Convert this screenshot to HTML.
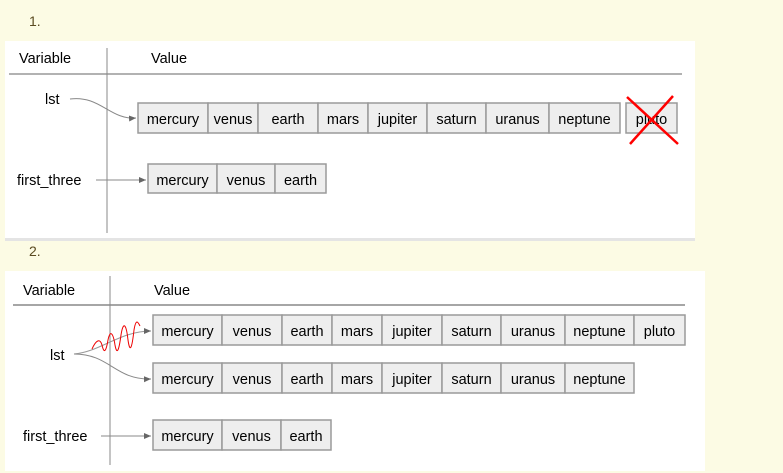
<!DOCTYPE html>
<html><head><meta charset="utf-8">
<style>
html,body{margin:0;padding:0;background:#fcfbe4;width:783px;height:473px;overflow:hidden}
svg{display:block}
text{font-family:"Liberation Sans",Arial,sans-serif;font-size:14.5px;fill:#000}
.c{fill:#eeeeee;stroke:#9a9a9a;stroke-width:1.5}
.num{font-family:"Liberation Sans",sans-serif;font-size:14px;fill:#5a4a20}
</style></head><body>
<svg width="783" height="473" viewBox="0 0 783 473" xmlns="http://www.w3.org/2000/svg">
<defs>
<marker id="ar" markerWidth="8" markerHeight="8" refX="7" refY="4" orient="auto" markerUnits="userSpaceOnUse">
<path d="M0,1 L7,4 L0,7 z" fill="#666"/></marker>
</defs>
<text x="29" y="26" class="num">1.</text>
<rect x="5" y="41" width="690" height="197" fill="#fff"/>
<rect x="5" y="238" width="690" height="3" fill="#e4e4e4"/>
<line x1="9" y1="74" x2="682" y2="74" stroke="#999" stroke-width="1.5"/>
<line x1="107" y1="48" x2="107" y2="233" stroke="#888" stroke-width="1"/>
<text x="19" y="63">Variable</text>
<text x="151" y="63">Value</text>
<text x="45" y="104">lst</text>
<text x="17" y="185">first_three</text>
<path d="M70,99 C100,95 110,120 136,118" fill="none" stroke="#888" stroke-width="1" marker-end="url(#ar)"/>
<line x1="96" y1="180" x2="146" y2="180" stroke="#888" stroke-width="1" marker-end="url(#ar)"/>
<g>
<rect class="c" x="138" y="103" width="70" height="30"/><text x="173" y="124" text-anchor="middle">mercury</text>
<rect class="c" x="208" y="103" width="50" height="30"/><text x="233" y="124" text-anchor="middle">venus</text>
<rect class="c" x="258" y="103" width="60" height="30"/><text x="288" y="124" text-anchor="middle">earth</text>
<rect class="c" x="318" y="103" width="50" height="30"/><text x="343" y="124" text-anchor="middle">mars</text>
<rect class="c" x="368" y="103" width="59" height="30"/><text x="397.5" y="124" text-anchor="middle">jupiter</text>
<rect class="c" x="427" y="103" width="59" height="30"/><text x="456.5" y="124" text-anchor="middle">saturn</text>
<rect class="c" x="486" y="103" width="63" height="30"/><text x="517.5" y="124" text-anchor="middle">uranus</text>
<rect class="c" x="549" y="103" width="71" height="30"/><text x="584.5" y="124" text-anchor="middle">neptune</text>
<rect class="c" x="626" y="103" width="51" height="30"/><text x="651.5" y="124" text-anchor="middle">pluto</text>
<line x1="627" y1="97" x2="678" y2="144" stroke="#f00" stroke-width="2.5"/>
<line x1="673" y1="96" x2="630" y2="144" stroke="#f00" stroke-width="2.5"/>
</g>
<g>
<rect class="c" x="148" y="164" width="69" height="29"/><text x="182.5" y="185" text-anchor="middle">mercury</text>
<rect class="c" x="217" y="164" width="58" height="29"/><text x="246" y="185" text-anchor="middle">venus</text>
<rect class="c" x="275" y="164" width="51" height="29"/><text x="300.5" y="185" text-anchor="middle">earth</text>
</g>

<text x="29" y="256" class="num">2.</text>
<rect x="5" y="271" width="700" height="200" fill="#fff"/>
<line x1="13" y1="305" x2="685" y2="305" stroke="#888" stroke-width="1.5"/>
<line x1="110" y1="276" x2="110" y2="465" stroke="#888" stroke-width="1"/>
<text x="23" y="295">Variable</text>
<text x="154" y="295">Value</text>
<text x="50" y="360">lst</text>
<text x="23" y="441">first_three</text>
<path d="M74,354 C100,352 120,331 151,331" fill="none" stroke="#999" stroke-width="1" marker-end="url(#ar)"/>
<path d="M74,354 C110,354 115,380 151,379" fill="none" stroke="#888" stroke-width="1" marker-end="url(#ar)"/>
<line x1="101" y1="436" x2="151" y2="436" stroke="#888" stroke-width="1" marker-end="url(#ar)"/>
<path d="M92,349 C96,340 100,338 102,345 C104,354 106,352 108,340 C110,330 113,332 115,345 C117,356 119,350 121,335 C123,322 126,322 128,340 C130,354 132,348 134,330 C136,318 138,322 140,326" fill="none" stroke="#e00" stroke-width="1"/>
<g>
<rect class="c" x="153" y="315" width="69" height="30"/><text x="187.5" y="336" text-anchor="middle">mercury</text>
<rect class="c" x="222" y="315" width="60" height="30"/><text x="252" y="336" text-anchor="middle">venus</text>
<rect class="c" x="282" y="315" width="50" height="30"/><text x="307" y="336" text-anchor="middle">earth</text>
<rect class="c" x="332" y="315" width="50" height="30"/><text x="357" y="336" text-anchor="middle">mars</text>
<rect class="c" x="382" y="315" width="60" height="30"/><text x="412" y="336" text-anchor="middle">jupiter</text>
<rect class="c" x="442" y="315" width="59" height="30"/><text x="471.5" y="336" text-anchor="middle">saturn</text>
<rect class="c" x="501" y="315" width="64" height="30"/><text x="533" y="336" text-anchor="middle">uranus</text>
<rect class="c" x="565" y="315" width="69" height="30"/><text x="599.5" y="336" text-anchor="middle">neptune</text>
<rect class="c" x="634" y="315" width="51" height="30"/><text x="659.5" y="336" text-anchor="middle">pluto</text>
</g>
<g>
<rect class="c" x="153" y="363" width="69" height="30"/><text x="187.5" y="384" text-anchor="middle">mercury</text>
<rect class="c" x="222" y="363" width="60" height="30"/><text x="252" y="384" text-anchor="middle">venus</text>
<rect class="c" x="282" y="363" width="50" height="30"/><text x="307" y="384" text-anchor="middle">earth</text>
<rect class="c" x="332" y="363" width="50" height="30"/><text x="357" y="384" text-anchor="middle">mars</text>
<rect class="c" x="382" y="363" width="60" height="30"/><text x="412" y="384" text-anchor="middle">jupiter</text>
<rect class="c" x="442" y="363" width="59" height="30"/><text x="471.5" y="384" text-anchor="middle">saturn</text>
<rect class="c" x="501" y="363" width="64" height="30"/><text x="533" y="384" text-anchor="middle">uranus</text>
<rect class="c" x="565" y="363" width="69" height="30"/><text x="599.5" y="384" text-anchor="middle">neptune</text>
</g>
<g>
<rect class="c" x="153" y="420" width="69" height="30"/><text x="187.5" y="441" text-anchor="middle">mercury</text>
<rect class="c" x="222" y="420" width="59" height="30"/><text x="251.5" y="441" text-anchor="middle">venus</text>
<rect class="c" x="281" y="420" width="50" height="30"/><text x="306" y="441" text-anchor="middle">earth</text>
</g>
</svg>
</body></html>
